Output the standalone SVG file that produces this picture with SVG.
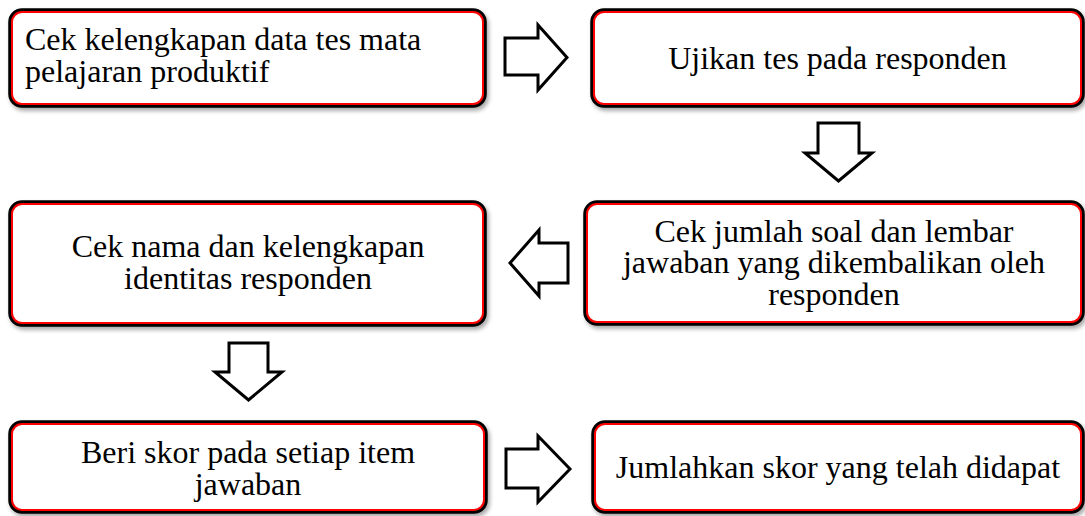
<svg xmlns="http://www.w3.org/2000/svg" width="1085" height="516" viewBox="0 0 1085 516">
<defs>
<filter id="sh" x="-5%" y="-10%" width="110%" height="130%">
<feDropShadow dx="2" dy="3" stdDeviation="2" flood-color="#000" flood-opacity="0.35"/>
</filter>
</defs>
<style>
.outer{fill:#fff;stroke:#000;stroke-width:3.5;filter:url(#sh)}
.inner{fill:none;stroke:#ff0000;stroke-width:2}
.t{font-family:"Liberation Serif","Times New Roman",serif;font-size:32px;fill:#000}
.c{text-anchor:middle}
.arr{fill:#fff;stroke:#000;stroke-width:3;stroke-linejoin:miter}
</style>
<g id="connectors">
<polygon class="arr" points="505,38 538,38 538,25 567,57.5 538,90 538,75 505,75"/>
<polygon class="arr" points="818,123 859,123 859,153 872,153 838.5,181 805,153 818,153"/>
<polygon class="arr" points="568,243 539,243 539,230 510,263 539,296 539,283 568,283"/>
<polygon class="arr" points="229,343 268,343 268,372 282,372 248.5,400 215,372 229,372"/>
<polygon class="arr" points="506,449 538,449 538,436 570,469 538,502 538,488 506,488"/>
</g>
<g id="n1">
<rect class="outer" x="10" y="10" width="475" height="96" rx="12"/>
<rect class="inner" x="12" y="12" width="471" height="92" rx="10"/>
<text class="t" x="25" y="50">Cek kelengkapan data tes mata</text>
<text class="t" x="25" y="82">pelajaran produktif</text>
</g>
<g id="n2">
<rect class="outer" x="592" y="10" width="491" height="96" rx="12"/>
<rect class="inner" x="594" y="12" width="487" height="92" rx="10"/>
<text class="t c" x="837.5" y="69">Ujikan tes pada responden</text>
</g>
<g id="n3">
<rect class="outer" x="10" y="202" width="475" height="123" rx="12"/>
<rect class="inner" x="12" y="204" width="471" height="119" rx="10"/>
<text class="t c" x="248" y="257">Cek nama dan kelengkapan</text>
<text class="t c" x="248" y="289">identitas responden</text>
</g>
<g id="n4">
<rect class="outer" x="585" y="202" width="498" height="122" rx="12"/>
<rect class="inner" x="587" y="204" width="494" height="118" rx="10"/>
<text class="t c" x="834" y="242">Cek jumlah soal dan lembar</text>
<text class="t c" x="834" y="273">jawaban yang dikembalikan oleh</text>
<text class="t c" x="834" y="305">responden</text>
</g>
<g id="n5">
<rect class="outer" x="10" y="422" width="476" height="90" rx="12"/>
<rect class="inner" x="12" y="424" width="472" height="86" rx="10"/>
<text class="t c" x="248" y="463">Beri skor pada setiap item</text>
<text class="t c" x="248" y="495">jawaban</text>
</g>
<g id="n6">
<rect class="outer" x="593" y="422" width="490" height="90" rx="12"/>
<rect class="inner" x="595" y="424" width="486" height="86" rx="10"/>
<text class="t c" x="838" y="478">Jumlahkan skor yang telah didapat</text>
</g>
</svg>
